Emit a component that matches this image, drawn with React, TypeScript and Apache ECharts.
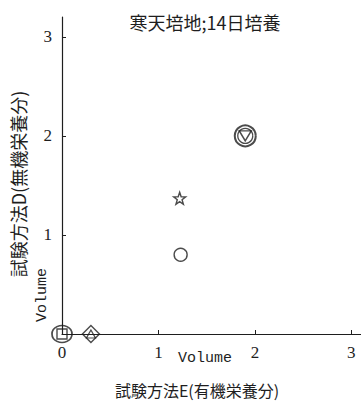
import React, { useEffect, useRef } from "react";
import * as echarts from "echarts";

const title = "寒天培地;14日培養";
const xName = "試験方法E(有機栄養分)";
const yName = "試験方法D(無機栄養分)";
const xTicks = [0, 1, 2, 3];
const yTicks = [0, 1, 2, 3];
const yLabelValues = [1, 2, 3];
const unitText = "Volume";

// marker groups (x, y)
const ringSquarePts = [[0, 0]];
const diamondTrianglePts = [[0.3, 0]];
const smallCirclePts = [[1.23, 0.8]];
const starPts = [[1.22, 1.37]];
const doubleRingTrianglePts = [[1.9, 2.0]];

const INK = "#1e1e1e";
const SERIF = "'Liberation Serif', 'DejaVu Serif', 'Noto Sans CJK JP', serif";
const CJK = "'Noto Sans CJK JP', 'Liberation Serif', serif";
const MONO = "'Liberation Mono', 'DejaVu Sans Mono', monospace";

const STAR =
  "path://M0,-10 L2.35,-3.24 L9.51,-3.09 L3.8,1.24 L5.88,8.09 L0,4 L-5.88,8.09 L-3.8,1.24 L-9.51,-3.09 L-2.35,-3.24 Z";

function hollow(name: string, data: number[][], symbol: string, size: any, width = 1.4, rotate = 0) {
  return {
    type: "scatter",
    name,
    data,
    symbol,
    symbolSize: size,
    symbolRotate: rotate,
    itemStyle: { color: "rgba(0,0,0,0)", borderColor: INK, borderWidth: width },
    emphasis: { disabled: true },
    silent: true,
    z: 5,
  };
}

export default function App() {
  const ref = useRef<HTMLDivElement>(null);
  useEffect(() => {
    document.body.style.margin = "0";
    const chart = echarts.init(ref.current!, null, { renderer: "svg" });
    chart.setOption({
      animation: false,
      backgroundColor: "#ffffff",
      grid: { left: 62, top: 17, width: 300, height: 317, containLabel: false },
      xAxis: {
        type: "value",
        min: 0,
        max: 3.1,
        interval: 1,
        splitLine: { show: false },
        axisLine: { lineStyle: { color: INK, width: 1.2 } },
        axisTick: { inside: true, length: 4, customValues: xTicks, lineStyle: { color: INK } },
        axisLabel: {
          customValues: xTicks,
          margin: 10,
          color: INK,
          fontSize: 17,
          fontFamily: SERIF,
        },
      },
      yAxis: {
        type: "value",
        min: 0,
        max: 3.2,
        interval: 1,
        splitLine: { show: false },
        axisLine: { lineStyle: { color: INK, width: 1.2 } },
        axisTick: { inside: true, length: 4, customValues: yTicks, lineStyle: { color: INK } },
        axisLabel: {
          customValues: yLabelValues,
          margin: 10,
          color: INK,
          fontSize: 17,
          fontFamily: SERIF,
        },
      },
      graphic: [
        {
          type: "text",
          x: 205,
          y: 22,
          style: { text: title, fill: INK, font: `18px ${CJK}`, align: "center", verticalAlign: "middle" },
        },
        {
          type: "text",
          x: 197,
          y: 390,
          style: { text: xName, fill: INK, font: `16px ${CJK}`, align: "center", verticalAlign: "middle" },
        },
        {
          type: "text",
          x: 18,
          y: 184,
          rotation: Math.PI / 2,
          style: { text: yName, fill: INK, font: `18px ${CJK}`, align: "center", verticalAlign: "middle" },
        },
        {
          type: "text",
          x: 205,
          y: 358,
          style: { text: unitText, fill: INK, font: `15px ${MONO}`, align: "center", verticalAlign: "middle" },
        },
        {
          type: "text",
          x: 42,
          y: 295,
          rotation: Math.PI / 2,
          style: { text: unitText, fill: INK, font: `15px ${MONO}`, align: "center", verticalAlign: "middle" },
        },
      ],
      series: [
        hollow("ringSquare-c", ringSquarePts, "circle", [20, 17], 1.6),
        hollow("ringSquare-s", ringSquarePts, "rect", [10, 10], 1.4),
        hollow("diamondTri-d", diamondTrianglePts, "diamond", [17, 17], 1.4),
        hollow("diamondTri-t", diamondTrianglePts, "triangle", [9, 8], 1.2),
        hollow("smallCircle", smallCirclePts, "circle", 13, 1.4),
        hollow("star", starPts, STAR, 12, 1.4),
        hollow("dbl-outer", doubleRingTrianglePts, "circle", 21, 2),
        hollow("dbl-inner", doubleRingTrianglePts, "circle", 15, 1.3),
        hollow("dbl-tri", doubleRingTrianglePts, "triangle", [12, 10], 1.4, 180),
      ],
    });
    return () => chart.dispose();
  }, []);
  return <div ref={ref} style={{ position: "absolute", left: 0, top: 0, width: 361, height: 406 }} />;
}
